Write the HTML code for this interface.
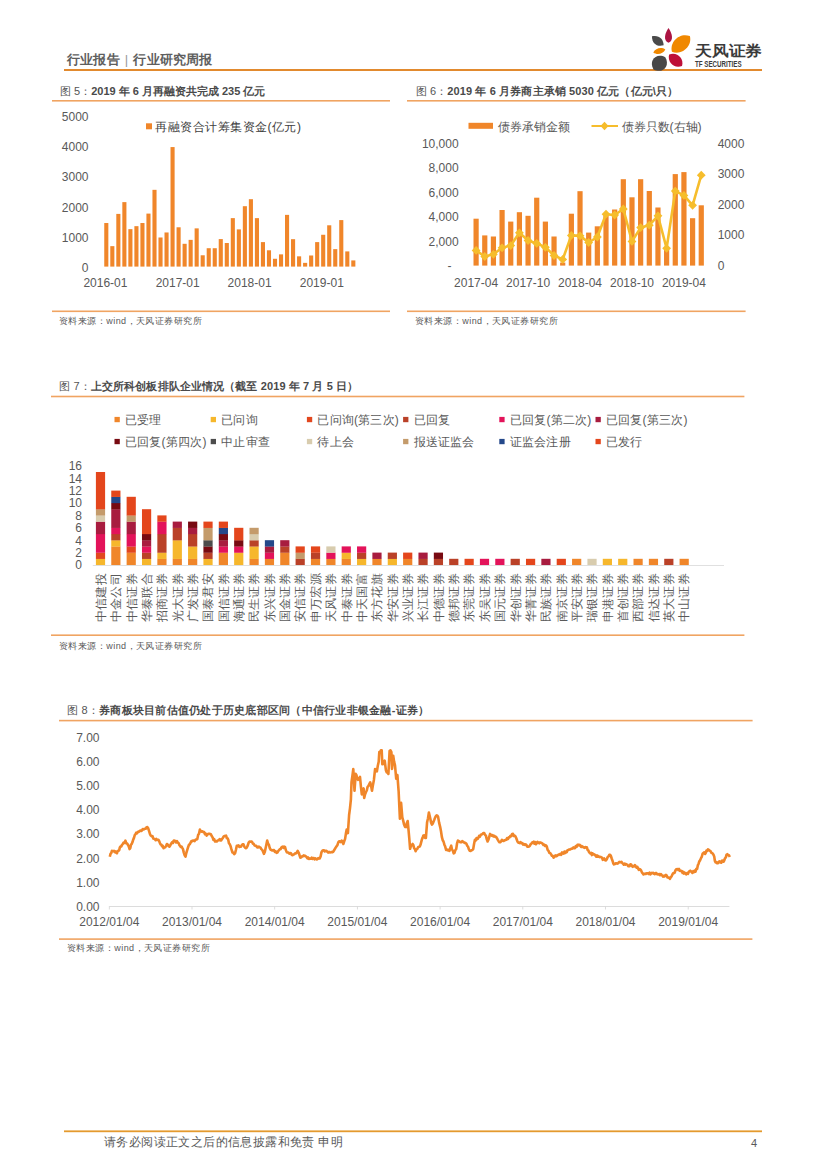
<!DOCTYPE html>
<html><head><meta charset="utf-8"><style>
html,body{margin:0;padding:0;background:#fff;}
body{width:827px;height:1170px;position:relative;overflow:hidden;font-family:"Liberation Sans",sans-serif;color:#595959;}
.a{position:absolute;white-space:nowrap;line-height:1;}
svg{position:absolute;left:0;top:0;}
.t{font-weight:bold;color:#4a4a4a;font-size:11px;}
.n{font-weight:normal;color:#555;}
.src{font-size:9px;letter-spacing:0.45px;color:#595959;}
</style></head><body>

<div class="a" style="left:67px;top:52.5px;font-size:13px;font-weight:bold;color:#5e5e5e;letter-spacing:0.2px">行业报告<span style="font-weight:normal;color:#999;margin:0 5px 0 5px">|</span>行业研究周报</div>
<svg width="827" height="1170" viewBox="0 0 827 1170">
<rect x="64" y="69" width="698" height="2" fill="#E28A2E"/>
<g>
<path d="M-7.40 0 C-2.22 -3.60 5.18 -5.60 7.40 0 C5.18 5.60 -2.22 3.60 -7.40 0Z" fill="#AC1442" transform="translate(668.50 35.30) rotate(90.0)"/>
<path d="M-7.40 0 C-2.96 -5.32 2.96 -5.32 7.40 0 C2.96 5.70 -2.96 5.70 -7.40 0Z" fill="#4a4a4a" transform="translate(657.80 40.80) rotate(38.0)"/>
<path d="M-11.90 0 C-7.14 -9.50 7.14 -9.50 11.90 0 C7.14 9.50 -7.14 9.50 -11.90 0Z" fill="#F08800" transform="translate(680.90 43.90) rotate(-41.0)"/>
<path d="M-6.20 0 C-3.10 -3.74 3.10 -3.74 6.20 0 C3.10 3.74 -3.10 3.74 -6.20 0Z" fill="#F08800" transform="translate(659.30 50.90) rotate(-14.0)"/>
<path d="M-8.60 0 C-5.16 -7.34 5.16 -7.34 8.60 0 C5.16 7.34 -5.16 7.34 -8.60 0Z" fill="#BE1038" transform="translate(675.60 60.30) rotate(41.6)"/>
<path d="M-8.50 0 C-5.78 -9.88 5.78 -9.88 8.50 0 C5.78 9.88 -5.78 9.88 -8.50 0Z" fill="#484848" transform="translate(659.40 63.30) rotate(-46.0)"/>
</g>
<text x="695" y="55.6" font-size="14.5" fill="#3a3a3a" font-weight="600" textLength="67" lengthAdjust="spacingAndGlyphs">天风证券</text>
<text x="695" y="66.6" font-size="8.2" fill="#3c3c3c" font-weight="bold" textLength="46.6" lengthAdjust="spacingAndGlyphs">TF SECURITIES</text>
<rect x="52" y="100.0" width="338" height="1.6" fill="#F0A462"/>
<rect x="407" y="100.0" width="338.6" height="1.6" fill="#F0A462"/>
<rect x="52" y="310.5" width="338" height="1.6" fill="#F0A462"/>
<rect x="407" y="310.5" width="338.6" height="1.6" fill="#F0A462"/>
<rect x="51" y="395.7" width="693.4" height="1.6" fill="#F0A462"/>
<rect x="51" y="634.4000000000001" width="693.4" height="1.6" fill="#F0A462"/>
<rect x="59" y="719.8000000000001" width="693.6" height="1.6" fill="#F0A462"/>
<rect x="59" y="938.3000000000001" width="693.4" height="1.6" fill="#F0A462"/>
<rect x="64" y="1130.3999999999999" width="698" height="1.8" fill="#E49A2E"/>
<rect x="104.25" y="223.02" width="4.1" height="43.58" fill="#F0862A"/>
<rect x="110.28" y="246.15" width="4.1" height="20.45" fill="#F0862A"/>
<rect x="116.30" y="213.90" width="4.1" height="52.70" fill="#F0862A"/>
<rect x="122.33" y="202.12" width="4.1" height="64.48" fill="#F0862A"/>
<rect x="128.35" y="229.15" width="4.1" height="37.45" fill="#F0862A"/>
<rect x="134.38" y="226.16" width="4.1" height="40.44" fill="#F0862A"/>
<rect x="140.40" y="223.02" width="4.1" height="43.58" fill="#F0862A"/>
<rect x="146.42" y="213.60" width="4.1" height="53.00" fill="#F0862A"/>
<rect x="152.45" y="189.83" width="4.1" height="76.77" fill="#F0862A"/>
<rect x="158.47" y="237.49" width="4.1" height="29.11" fill="#F0862A"/>
<rect x="164.50" y="232.47" width="4.1" height="34.13" fill="#F0862A"/>
<rect x="170.52" y="147.07" width="4.1" height="119.53" fill="#F0862A"/>
<rect x="176.55" y="227.28" width="4.1" height="39.32" fill="#F0862A"/>
<rect x="182.57" y="243.80" width="4.1" height="22.80" fill="#F0862A"/>
<rect x="188.60" y="239.87" width="4.1" height="26.73" fill="#F0862A"/>
<rect x="194.62" y="228.37" width="4.1" height="38.23" fill="#F0862A"/>
<rect x="200.65" y="255.28" width="4.1" height="11.32" fill="#F0862A"/>
<rect x="206.68" y="248.21" width="4.1" height="18.39" fill="#F0862A"/>
<rect x="212.70" y="248.21" width="4.1" height="18.39" fill="#F0862A"/>
<rect x="218.72" y="239.09" width="4.1" height="27.51" fill="#F0862A"/>
<rect x="224.75" y="243.01" width="4.1" height="23.59" fill="#F0862A"/>
<rect x="230.77" y="218.13" width="4.1" height="48.47" fill="#F0862A"/>
<rect x="236.80" y="229.39" width="4.1" height="37.21" fill="#F0862A"/>
<rect x="242.82" y="206.20" width="4.1" height="60.40" fill="#F0862A"/>
<rect x="248.85" y="199.19" width="4.1" height="67.41" fill="#F0862A"/>
<rect x="254.88" y="218.13" width="4.1" height="48.47" fill="#F0862A"/>
<rect x="260.90" y="242.11" width="4.1" height="24.49" fill="#F0862A"/>
<rect x="266.93" y="250.29" width="4.1" height="16.31" fill="#F0862A"/>
<rect x="272.95" y="258.78" width="4.1" height="7.82" fill="#F0862A"/>
<rect x="278.98" y="254.37" width="4.1" height="12.23" fill="#F0862A"/>
<rect x="285.00" y="214.87" width="4.1" height="51.73" fill="#F0862A"/>
<rect x="291.02" y="239.18" width="4.1" height="27.42" fill="#F0862A"/>
<rect x="297.05" y="256.33" width="4.1" height="10.27" fill="#F0862A"/>
<rect x="303.07" y="262.86" width="4.1" height="3.74" fill="#F0862A"/>
<rect x="309.10" y="255.49" width="4.1" height="11.11" fill="#F0862A"/>
<rect x="315.12" y="242.11" width="4.1" height="24.49" fill="#F0862A"/>
<rect x="321.15" y="234.77" width="4.1" height="31.83" fill="#F0862A"/>
<rect x="327.18" y="225.29" width="4.1" height="41.31" fill="#F0862A"/>
<rect x="333.20" y="249.14" width="4.1" height="17.46" fill="#F0862A"/>
<rect x="339.23" y="220.09" width="4.1" height="46.51" fill="#F0862A"/>
<rect x="345.25" y="251.41" width="4.1" height="15.19" fill="#F0862A"/>
<rect x="351.27" y="260.41" width="4.1" height="6.19" fill="#F0862A"/>
<text x="88.5" y="271.9" font-size="12" fill="#595959" text-anchor="end">0</text>
<text x="88.5" y="241.7" font-size="12" fill="#595959" text-anchor="end">1000</text>
<text x="88.5" y="211.5" font-size="12" fill="#595959" text-anchor="end">2000</text>
<text x="88.5" y="181.3" font-size="12" fill="#595959" text-anchor="end">3000</text>
<text x="88.5" y="151.1" font-size="12" fill="#595959" text-anchor="end">4000</text>
<text x="88.5" y="120.9" font-size="12" fill="#595959" text-anchor="end">5000</text>
<text x="105.4" y="286.6" font-size="12" fill="#595959" text-anchor="middle">2016-01</text>
<text x="177.7" y="286.6" font-size="12" fill="#595959" text-anchor="middle">2017-01</text>
<text x="249.6" y="286.6" font-size="12" fill="#595959" text-anchor="middle">2018-01</text>
<text x="321.8" y="286.6" font-size="12" fill="#595959" text-anchor="middle">2019-01</text>
<rect x="146" y="123.3" width="6" height="6" fill="#F0862A"/>
<text x="155" y="130.6" font-size="12" letter-spacing="0.5" fill="#404040">再融资合计筹集资金(亿元)</text>
<rect x="473.50" y="218.70" width="5.2" height="46.90" fill="#F0862A"/>
<rect x="482.16" y="235.41" width="5.2" height="30.19" fill="#F0862A"/>
<rect x="490.82" y="236.50" width="5.2" height="29.10" fill="#F0862A"/>
<rect x="499.48" y="210.00" width="5.2" height="55.60" fill="#F0862A"/>
<rect x="508.14" y="221.59" width="5.2" height="44.01" fill="#F0862A"/>
<rect x="516.80" y="212.20" width="5.2" height="53.40" fill="#F0862A"/>
<rect x="525.46" y="215.80" width="5.2" height="49.80" fill="#F0862A"/>
<rect x="534.12" y="197.69" width="5.2" height="67.91" fill="#F0862A"/>
<rect x="542.78" y="221.59" width="5.2" height="44.01" fill="#F0862A"/>
<rect x="551.44" y="236.50" width="5.2" height="29.10" fill="#F0862A"/>
<rect x="560.10" y="262.55" width="5.2" height="3.05" fill="#F0862A"/>
<rect x="568.76" y="213.70" width="5.2" height="51.90" fill="#F0862A"/>
<rect x="577.42" y="191.18" width="5.2" height="74.42" fill="#F0862A"/>
<rect x="586.08" y="232.60" width="5.2" height="33.00" fill="#F0862A"/>
<rect x="594.74" y="226.30" width="5.2" height="39.30" fill="#F0862A"/>
<rect x="603.40" y="215.58" width="5.2" height="50.02" fill="#F0862A"/>
<rect x="612.06" y="209.50" width="5.2" height="56.10" fill="#F0862A"/>
<rect x="620.72" y="179.20" width="5.2" height="86.40" fill="#F0862A"/>
<rect x="629.38" y="197.30" width="5.2" height="68.30" fill="#F0862A"/>
<rect x="638.04" y="179.20" width="5.2" height="86.40" fill="#F0862A"/>
<rect x="646.70" y="191.00" width="5.2" height="74.60" fill="#F0862A"/>
<rect x="655.36" y="207.50" width="5.2" height="58.10" fill="#F0862A"/>
<rect x="664.02" y="249.74" width="5.2" height="15.86" fill="#F0862A"/>
<rect x="672.68" y="174.10" width="5.2" height="91.50" fill="#F0862A"/>
<rect x="681.34" y="172.10" width="5.2" height="93.50" fill="#F0862A"/>
<rect x="690.00" y="218.20" width="5.2" height="47.40" fill="#F0862A"/>
<rect x="698.66" y="205.30" width="5.2" height="60.30" fill="#F0862A"/>
<polyline points="476.10,250.41 484.76,256.51 493.42,254.32 502.08,247.79 510.74,245.59 519.40,232.81 528.06,240.50 536.72,243.40 545.38,247.30 554.04,255.50 562.70,259.41 571.36,235.41 580.02,235.86 588.68,242.51 597.34,236.99 606.00,214.21 614.66,215.00 623.32,208.99 631.98,241.41 640.64,227.60 649.30,225.19 657.96,215.79 666.62,248.31 675.28,191.09 683.94,195.39 692.60,205.30 701.26,175.20" fill="none" stroke="#F6BD2C" stroke-width="2.6" stroke-linejoin="round"/>
<path d="M476.10 246.01L480.50 250.41L476.10 254.81L471.70 250.41Z" fill="#F6BD2C"/>
<path d="M484.76 252.11L489.16 256.51L484.76 260.91L480.36 256.51Z" fill="#F6BD2C"/>
<path d="M493.42 249.92L497.82 254.32L493.42 258.72L489.02 254.32Z" fill="#F6BD2C"/>
<path d="M502.08 243.39L506.48 247.79L502.08 252.19L497.68 247.79Z" fill="#F6BD2C"/>
<path d="M510.74 241.19L515.14 245.59L510.74 249.99L506.34 245.59Z" fill="#F6BD2C"/>
<path d="M519.40 228.41L523.80 232.81L519.40 237.21L515.00 232.81Z" fill="#F6BD2C"/>
<path d="M528.06 236.10L532.46 240.50L528.06 244.90L523.66 240.50Z" fill="#F6BD2C"/>
<path d="M536.72 239.00L541.12 243.40L536.72 247.80L532.32 243.40Z" fill="#F6BD2C"/>
<path d="M545.38 242.90L549.78 247.30L545.38 251.70L540.98 247.30Z" fill="#F6BD2C"/>
<path d="M554.04 251.10L558.44 255.50L554.04 259.90L549.64 255.50Z" fill="#F6BD2C"/>
<path d="M562.70 255.01L567.10 259.41L562.70 263.81L558.30 259.41Z" fill="#F6BD2C"/>
<path d="M571.36 231.01L575.76 235.41L571.36 239.81L566.96 235.41Z" fill="#F6BD2C"/>
<path d="M580.02 231.46L584.42 235.86L580.02 240.26L575.62 235.86Z" fill="#F6BD2C"/>
<path d="M588.68 238.11L593.08 242.51L588.68 246.91L584.28 242.51Z" fill="#F6BD2C"/>
<path d="M597.34 232.59L601.74 236.99L597.34 241.39L592.94 236.99Z" fill="#F6BD2C"/>
<path d="M606.00 209.81L610.40 214.21L606.00 218.61L601.60 214.21Z" fill="#F6BD2C"/>
<path d="M614.66 210.60L619.06 215.00L614.66 219.40L610.26 215.00Z" fill="#F6BD2C"/>
<path d="M623.32 204.59L627.72 208.99L623.32 213.39L618.92 208.99Z" fill="#F6BD2C"/>
<path d="M631.98 237.01L636.38 241.41L631.98 245.81L627.58 241.41Z" fill="#F6BD2C"/>
<path d="M640.64 223.20L645.04 227.60L640.64 232.00L636.24 227.60Z" fill="#F6BD2C"/>
<path d="M649.30 220.79L653.70 225.19L649.30 229.59L644.90 225.19Z" fill="#F6BD2C"/>
<path d="M657.96 211.39L662.36 215.79L657.96 220.19L653.56 215.79Z" fill="#F6BD2C"/>
<path d="M666.62 243.91L671.02 248.31L666.62 252.71L662.22 248.31Z" fill="#F6BD2C"/>
<path d="M675.28 186.69L679.68 191.09L675.28 195.49L670.88 191.09Z" fill="#F6BD2C"/>
<path d="M683.94 190.99L688.34 195.39L683.94 199.79L679.54 195.39Z" fill="#F6BD2C"/>
<path d="M692.60 200.90L697.00 205.30L692.60 209.70L688.20 205.30Z" fill="#F6BD2C"/>
<path d="M701.26 170.80L705.66 175.20L701.26 179.60L696.86 175.20Z" fill="#F6BD2C"/>
<text x="451.5" y="269.9" font-size="12" fill="#595959" text-anchor="end">-</text>
<text x="458.6" y="245.5" font-size="12" fill="#595959" text-anchor="end">2,000</text>
<text x="458.6" y="221.1" font-size="12" fill="#595959" text-anchor="end">4,000</text>
<text x="458.6" y="196.7" font-size="12" fill="#595959" text-anchor="end">6,000</text>
<text x="458.6" y="172.3" font-size="12" fill="#595959" text-anchor="end">8,000</text>
<text x="458.6" y="147.9" font-size="12" fill="#595959" text-anchor="end">10,000</text>
<text x="717.7" y="269.9" font-size="12" fill="#595959">0</text>
<text x="717.7" y="239.4" font-size="12" fill="#595959">1000</text>
<text x="717.7" y="208.9" font-size="12" fill="#595959">2000</text>
<text x="717.7" y="178.4" font-size="12" fill="#595959">3000</text>
<text x="717.7" y="147.9" font-size="12" fill="#595959">4000</text>
<text x="476.1" y="287" font-size="12" fill="#595959" text-anchor="middle">2017-04</text>
<text x="528.1" y="287" font-size="12" fill="#595959" text-anchor="middle">2017-10</text>
<text x="580.0" y="287" font-size="12" fill="#595959" text-anchor="middle">2018-04</text>
<text x="632.0" y="287" font-size="12" fill="#595959" text-anchor="middle">2018-10</text>
<text x="683.9" y="287" font-size="12" fill="#595959" text-anchor="middle">2019-04</text>
<rect x="468.5" y="122.8" width="24.5" height="6" fill="#F0862A"/>
<text x="498" y="130.8" font-size="12.3" fill="#595959">债券承销金额</text>
<rect x="591.5" y="125" width="26.5" height="2" fill="#F6BD2C"/>
<path d="M604.5 121.8L608.5 126L604.5 130.2L600.5 126Z" fill="#F6BD2C"/>
<text x="621.5" y="130.8" font-size="12.3" fill="#595959">债券只数(右轴)</text>
<rect x="95.90" y="558.80" width="9.2" height="6.35" fill="#F6B72C"/>
<rect x="95.90" y="552.60" width="9.2" height="6.35" fill="#E2471E"/>
<rect x="95.90" y="534.00" width="9.2" height="18.75" fill="#E3135A"/>
<rect x="95.90" y="521.60" width="9.2" height="12.55" fill="#A81C3F"/>
<rect x="95.90" y="515.40" width="9.2" height="6.35" fill="#D8CCAE"/>
<rect x="95.90" y="509.20" width="9.2" height="6.35" fill="#C49B6B"/>
<rect x="95.90" y="472.00" width="9.2" height="37.35" fill="#E4461C"/>
<rect x="111.26" y="546.40" width="9.2" height="18.75" fill="#F0862A"/>
<rect x="111.26" y="540.20" width="9.2" height="6.35" fill="#F6B72C"/>
<rect x="111.26" y="534.00" width="9.2" height="6.35" fill="#BA4128"/>
<rect x="111.26" y="527.80" width="9.2" height="6.35" fill="#E3135A"/>
<rect x="111.26" y="509.20" width="9.2" height="18.75" fill="#A81C3F"/>
<rect x="111.26" y="503.00" width="9.2" height="6.35" fill="#780A12"/>
<rect x="111.26" y="496.80" width="9.2" height="6.35" fill="#24488A"/>
<rect x="111.26" y="490.60" width="9.2" height="6.35" fill="#E4461C"/>
<rect x="126.62" y="552.60" width="9.2" height="12.55" fill="#F0862A"/>
<rect x="126.62" y="546.40" width="9.2" height="6.35" fill="#E2471E"/>
<rect x="126.62" y="534.00" width="9.2" height="12.55" fill="#E3135A"/>
<rect x="126.62" y="521.60" width="9.2" height="12.55" fill="#A81C3F"/>
<rect x="126.62" y="515.40" width="9.2" height="6.35" fill="#C49B6B"/>
<rect x="126.62" y="496.80" width="9.2" height="18.75" fill="#E4461C"/>
<rect x="141.98" y="558.80" width="9.2" height="6.35" fill="#F6B72C"/>
<rect x="141.98" y="552.60" width="9.2" height="6.35" fill="#BA4128"/>
<rect x="141.98" y="546.40" width="9.2" height="6.35" fill="#E3135A"/>
<rect x="141.98" y="540.20" width="9.2" height="6.35" fill="#A81C3F"/>
<rect x="141.98" y="534.00" width="9.2" height="6.35" fill="#780A12"/>
<rect x="141.98" y="509.20" width="9.2" height="24.95" fill="#E4461C"/>
<rect x="157.34" y="558.80" width="9.2" height="6.35" fill="#F0862A"/>
<rect x="157.34" y="552.60" width="9.2" height="6.35" fill="#F6B72C"/>
<rect x="157.34" y="534.00" width="9.2" height="18.75" fill="#BA4128"/>
<rect x="157.34" y="521.60" width="9.2" height="12.55" fill="#E3135A"/>
<rect x="157.34" y="515.40" width="9.2" height="6.35" fill="#E4461C"/>
<rect x="172.70" y="558.80" width="9.2" height="6.35" fill="#F0862A"/>
<rect x="172.70" y="540.20" width="9.2" height="18.75" fill="#F6B72C"/>
<rect x="172.70" y="527.80" width="9.2" height="12.55" fill="#BA4128"/>
<rect x="172.70" y="521.60" width="9.2" height="6.35" fill="#A81C3F"/>
<rect x="188.06" y="558.80" width="9.2" height="6.35" fill="#F0862A"/>
<rect x="188.06" y="546.40" width="9.2" height="12.55" fill="#F6B72C"/>
<rect x="188.06" y="534.00" width="9.2" height="12.55" fill="#BA4128"/>
<rect x="188.06" y="527.80" width="9.2" height="6.35" fill="#A81C3F"/>
<rect x="188.06" y="521.60" width="9.2" height="6.35" fill="#780A12"/>
<rect x="203.42" y="558.80" width="9.2" height="6.35" fill="#F6B72C"/>
<rect x="203.42" y="552.60" width="9.2" height="6.35" fill="#BA4128"/>
<rect x="203.42" y="546.40" width="9.2" height="6.35" fill="#780A12"/>
<rect x="203.42" y="540.20" width="9.2" height="6.35" fill="#4C4C4C"/>
<rect x="203.42" y="527.80" width="9.2" height="12.55" fill="#C49B6B"/>
<rect x="203.42" y="521.60" width="9.2" height="6.35" fill="#E4461C"/>
<rect x="218.78" y="552.60" width="9.2" height="12.55" fill="#F0862A"/>
<rect x="218.78" y="546.40" width="9.2" height="6.35" fill="#E3135A"/>
<rect x="218.78" y="540.20" width="9.2" height="6.35" fill="#A81C3F"/>
<rect x="218.78" y="534.00" width="9.2" height="6.35" fill="#780A12"/>
<rect x="218.78" y="527.80" width="9.2" height="6.35" fill="#24488A"/>
<rect x="218.78" y="521.60" width="9.2" height="6.35" fill="#E4461C"/>
<rect x="234.14" y="552.60" width="9.2" height="12.55" fill="#F6B72C"/>
<rect x="234.14" y="546.40" width="9.2" height="6.35" fill="#E3135A"/>
<rect x="234.14" y="540.20" width="9.2" height="6.35" fill="#780A12"/>
<rect x="234.14" y="527.80" width="9.2" height="12.55" fill="#E4461C"/>
<rect x="249.50" y="558.80" width="9.2" height="6.35" fill="#F0862A"/>
<rect x="249.50" y="546.40" width="9.2" height="12.55" fill="#F6B72C"/>
<rect x="249.50" y="540.20" width="9.2" height="6.35" fill="#BA4128"/>
<rect x="249.50" y="534.00" width="9.2" height="6.35" fill="#D8CCAE"/>
<rect x="249.50" y="527.80" width="9.2" height="6.35" fill="#C49B6B"/>
<rect x="264.86" y="558.80" width="9.2" height="6.35" fill="#F0862A"/>
<rect x="264.86" y="552.60" width="9.2" height="6.35" fill="#E3135A"/>
<rect x="264.86" y="546.40" width="9.2" height="6.35" fill="#A81C3F"/>
<rect x="264.86" y="540.20" width="9.2" height="6.35" fill="#24488A"/>
<rect x="280.22" y="552.60" width="9.2" height="12.55" fill="#F0862A"/>
<rect x="280.22" y="546.40" width="9.2" height="6.35" fill="#BA4128"/>
<rect x="280.22" y="540.20" width="9.2" height="6.35" fill="#A81C3F"/>
<rect x="295.58" y="558.80" width="9.2" height="6.35" fill="#BA4128"/>
<rect x="295.58" y="552.60" width="9.2" height="6.35" fill="#C49B6B"/>
<rect x="295.58" y="546.40" width="9.2" height="6.35" fill="#E4461C"/>
<rect x="310.94" y="558.80" width="9.2" height="6.35" fill="#F0862A"/>
<rect x="310.94" y="552.60" width="9.2" height="6.35" fill="#BA4128"/>
<rect x="310.94" y="546.40" width="9.2" height="6.35" fill="#E4461C"/>
<rect x="326.30" y="558.80" width="9.2" height="6.35" fill="#F0862A"/>
<rect x="326.30" y="552.60" width="9.2" height="6.35" fill="#E3135A"/>
<rect x="326.30" y="546.40" width="9.2" height="6.35" fill="#D8CCAE"/>
<rect x="341.66" y="558.80" width="9.2" height="6.35" fill="#F0862A"/>
<rect x="341.66" y="552.60" width="9.2" height="6.35" fill="#F6B72C"/>
<rect x="341.66" y="546.40" width="9.2" height="6.35" fill="#E3135A"/>
<rect x="357.02" y="558.80" width="9.2" height="6.35" fill="#F6B72C"/>
<rect x="357.02" y="552.60" width="9.2" height="6.35" fill="#BA4128"/>
<rect x="357.02" y="546.40" width="9.2" height="6.35" fill="#E3135A"/>
<rect x="372.38" y="558.80" width="9.2" height="6.35" fill="#F0862A"/>
<rect x="372.38" y="552.60" width="9.2" height="6.35" fill="#A81C3F"/>
<rect x="387.74" y="558.80" width="9.2" height="6.35" fill="#F6B72C"/>
<rect x="387.74" y="552.60" width="9.2" height="6.35" fill="#BA4128"/>
<rect x="403.10" y="558.80" width="9.2" height="6.35" fill="#F0862A"/>
<rect x="403.10" y="552.60" width="9.2" height="6.35" fill="#E4461C"/>
<rect x="418.46" y="558.80" width="9.2" height="6.35" fill="#BA4128"/>
<rect x="418.46" y="552.60" width="9.2" height="6.35" fill="#A81C3F"/>
<rect x="433.82" y="558.80" width="9.2" height="6.35" fill="#BA4128"/>
<rect x="433.82" y="552.60" width="9.2" height="6.35" fill="#780A12"/>
<rect x="449.18" y="558.80" width="9.2" height="6.35" fill="#BA4128"/>
<rect x="464.54" y="558.80" width="9.2" height="6.35" fill="#E4461C"/>
<rect x="479.90" y="558.80" width="9.2" height="6.35" fill="#E3135A"/>
<rect x="495.26" y="558.80" width="9.2" height="6.35" fill="#E3135A"/>
<rect x="510.62" y="558.80" width="9.2" height="6.35" fill="#BA4128"/>
<rect x="525.98" y="558.80" width="9.2" height="6.35" fill="#E4461C"/>
<rect x="541.34" y="558.80" width="9.2" height="6.35" fill="#A81C3F"/>
<rect x="556.70" y="558.80" width="9.2" height="6.35" fill="#E4461C"/>
<rect x="572.06" y="558.80" width="9.2" height="6.35" fill="#F0862A"/>
<rect x="587.42" y="558.80" width="9.2" height="6.35" fill="#D8CCAE"/>
<rect x="602.78" y="558.80" width="9.2" height="6.35" fill="#F6B72C"/>
<rect x="618.14" y="558.80" width="9.2" height="6.35" fill="#F6B72C"/>
<rect x="633.50" y="558.80" width="9.2" height="6.35" fill="#F0862A"/>
<rect x="648.86" y="558.80" width="9.2" height="6.35" fill="#F0862A"/>
<rect x="664.22" y="558.80" width="9.2" height="6.35" fill="#BA4128"/>
<rect x="679.58" y="558.80" width="9.2" height="6.35" fill="#F0862A"/>
<rect x="92.8" y="565.0" width="631.2" height="0.8" fill="#d9d9d9"/>
<text x="82" y="569.3" font-size="12" fill="#595959" text-anchor="end">0</text>
<text x="82" y="556.9" font-size="12" fill="#595959" text-anchor="end">2</text>
<text x="82" y="544.5" font-size="12" fill="#595959" text-anchor="end">4</text>
<text x="82" y="532.1" font-size="12" fill="#595959" text-anchor="end">6</text>
<text x="82" y="519.7" font-size="12" fill="#595959" text-anchor="end">8</text>
<text x="82" y="507.3" font-size="12" fill="#595959" text-anchor="end">10</text>
<text x="82" y="494.9" font-size="12" fill="#595959" text-anchor="end">12</text>
<text x="82" y="482.5" font-size="12" fill="#595959" text-anchor="end">14</text>
<text x="82" y="470.1" font-size="12" fill="#595959" text-anchor="end">16</text>
<text transform="translate(104.80,573.1) rotate(-90)" font-size="12" letter-spacing="0.3" fill="#595959" text-anchor="end">中信建投</text>
<text transform="translate(120.16,573.1) rotate(-90)" font-size="12" letter-spacing="0.3" fill="#595959" text-anchor="end">中金公司</text>
<text transform="translate(135.52,573.1) rotate(-90)" font-size="12" letter-spacing="0.3" fill="#595959" text-anchor="end">中信证券</text>
<text transform="translate(150.88,573.1) rotate(-90)" font-size="12" letter-spacing="0.3" fill="#595959" text-anchor="end">华泰联合</text>
<text transform="translate(166.24,573.1) rotate(-90)" font-size="12" letter-spacing="0.3" fill="#595959" text-anchor="end">招商证券</text>
<text transform="translate(181.60,573.1) rotate(-90)" font-size="12" letter-spacing="0.3" fill="#595959" text-anchor="end">光大证券</text>
<text transform="translate(196.96,573.1) rotate(-90)" font-size="12" letter-spacing="0.3" fill="#595959" text-anchor="end">广发证券</text>
<text transform="translate(212.32,573.1) rotate(-90)" font-size="12" letter-spacing="0.3" fill="#595959" text-anchor="end">国泰君安</text>
<text transform="translate(227.68,573.1) rotate(-90)" font-size="12" letter-spacing="0.3" fill="#595959" text-anchor="end">国信证券</text>
<text transform="translate(243.04,573.1) rotate(-90)" font-size="12" letter-spacing="0.3" fill="#595959" text-anchor="end">海通证券</text>
<text transform="translate(258.40,573.1) rotate(-90)" font-size="12" letter-spacing="0.3" fill="#595959" text-anchor="end">民生证券</text>
<text transform="translate(273.76,573.1) rotate(-90)" font-size="12" letter-spacing="0.3" fill="#595959" text-anchor="end">东兴证券</text>
<text transform="translate(289.12,573.1) rotate(-90)" font-size="12" letter-spacing="0.3" fill="#595959" text-anchor="end">国金证券</text>
<text transform="translate(304.48,573.1) rotate(-90)" font-size="12" letter-spacing="0.3" fill="#595959" text-anchor="end">安信证券</text>
<text transform="translate(319.84,573.1) rotate(-90)" font-size="12" letter-spacing="0.3" fill="#595959" text-anchor="end">申万宏源</text>
<text transform="translate(335.20,573.1) rotate(-90)" font-size="12" letter-spacing="0.3" fill="#595959" text-anchor="end">天风证券</text>
<text transform="translate(350.56,573.1) rotate(-90)" font-size="12" letter-spacing="0.3" fill="#595959" text-anchor="end">中泰证券</text>
<text transform="translate(365.92,573.1) rotate(-90)" font-size="12" letter-spacing="0.3" fill="#595959" text-anchor="end">中天国富</text>
<text transform="translate(381.28,573.1) rotate(-90)" font-size="12" letter-spacing="0.3" fill="#595959" text-anchor="end">东方花旗</text>
<text transform="translate(396.64,573.1) rotate(-90)" font-size="12" letter-spacing="0.3" fill="#595959" text-anchor="end">华安证券</text>
<text transform="translate(412.00,573.1) rotate(-90)" font-size="12" letter-spacing="0.3" fill="#595959" text-anchor="end">兴业证券</text>
<text transform="translate(427.36,573.1) rotate(-90)" font-size="12" letter-spacing="0.3" fill="#595959" text-anchor="end">长江证券</text>
<text transform="translate(442.72,573.1) rotate(-90)" font-size="12" letter-spacing="0.3" fill="#595959" text-anchor="end">中德证券</text>
<text transform="translate(458.08,573.1) rotate(-90)" font-size="12" letter-spacing="0.3" fill="#595959" text-anchor="end">德邦证券</text>
<text transform="translate(473.44,573.1) rotate(-90)" font-size="12" letter-spacing="0.3" fill="#595959" text-anchor="end">东莞证券</text>
<text transform="translate(488.80,573.1) rotate(-90)" font-size="12" letter-spacing="0.3" fill="#595959" text-anchor="end">东吴证券</text>
<text transform="translate(504.16,573.1) rotate(-90)" font-size="12" letter-spacing="0.3" fill="#595959" text-anchor="end">国元证券</text>
<text transform="translate(519.52,573.1) rotate(-90)" font-size="12" letter-spacing="0.3" fill="#595959" text-anchor="end">华创证券</text>
<text transform="translate(534.88,573.1) rotate(-90)" font-size="12" letter-spacing="0.3" fill="#595959" text-anchor="end">华菁证券</text>
<text transform="translate(550.24,573.1) rotate(-90)" font-size="12" letter-spacing="0.3" fill="#595959" text-anchor="end">民族证券</text>
<text transform="translate(565.60,573.1) rotate(-90)" font-size="12" letter-spacing="0.3" fill="#595959" text-anchor="end">南京证券</text>
<text transform="translate(580.96,573.1) rotate(-90)" font-size="12" letter-spacing="0.3" fill="#595959" text-anchor="end">平安证券</text>
<text transform="translate(596.32,573.1) rotate(-90)" font-size="12" letter-spacing="0.3" fill="#595959" text-anchor="end">瑞银证券</text>
<text transform="translate(611.68,573.1) rotate(-90)" font-size="12" letter-spacing="0.3" fill="#595959" text-anchor="end">申港证券</text>
<text transform="translate(627.04,573.1) rotate(-90)" font-size="12" letter-spacing="0.3" fill="#595959" text-anchor="end">首创证券</text>
<text transform="translate(642.40,573.1) rotate(-90)" font-size="12" letter-spacing="0.3" fill="#595959" text-anchor="end">西部证券</text>
<text transform="translate(657.76,573.1) rotate(-90)" font-size="12" letter-spacing="0.3" fill="#595959" text-anchor="end">信达证券</text>
<text transform="translate(673.12,573.1) rotate(-90)" font-size="12" letter-spacing="0.3" fill="#595959" text-anchor="end">英大证券</text>
<text transform="translate(688.48,573.1) rotate(-90)" font-size="12" letter-spacing="0.3" fill="#595959" text-anchor="end">中山证券</text>
<rect x="114.5" y="416.9" width="5.3" height="5.3" fill="#F0862A"/>
<text x="125.0" y="424.0" font-size="12" letter-spacing="0.2" fill="#595959">已受理</text>
<rect x="210.7" y="416.9" width="5.3" height="5.3" fill="#F6B72C"/>
<text x="221.2" y="424.0" font-size="12" letter-spacing="0.2" fill="#595959">已问询</text>
<rect x="306.9" y="416.9" width="5.3" height="5.3" fill="#E2471E"/>
<text x="317.4" y="424.0" font-size="12" letter-spacing="0.2" fill="#595959">已问询(第三次)</text>
<rect x="403.1" y="416.9" width="5.3" height="5.3" fill="#BA4128"/>
<text x="413.6" y="424.0" font-size="12" letter-spacing="0.2" fill="#595959">已回复</text>
<rect x="499.3" y="416.9" width="5.3" height="5.3" fill="#E3135A"/>
<text x="509.8" y="424.0" font-size="12" letter-spacing="0.2" fill="#595959">已回复(第二次)</text>
<rect x="595.5" y="416.9" width="5.3" height="5.3" fill="#A81C3F"/>
<text x="606.0" y="424.0" font-size="12" letter-spacing="0.2" fill="#595959">已回复(第三次)</text>
<rect x="114.5" y="438.9" width="5.3" height="5.3" fill="#780A12"/>
<text x="125.0" y="446.0" font-size="12" letter-spacing="0.2" fill="#595959">已回复(第四次)</text>
<rect x="210.7" y="438.9" width="5.3" height="5.3" fill="#4C4C4C"/>
<text x="221.2" y="446.0" font-size="12" letter-spacing="0.2" fill="#595959">中止审查</text>
<rect x="306.9" y="438.9" width="5.3" height="5.3" fill="#D8CCAE"/>
<text x="317.4" y="446.0" font-size="12" letter-spacing="0.2" fill="#595959">待上会</text>
<rect x="403.1" y="438.9" width="5.3" height="5.3" fill="#C49B6B"/>
<text x="413.6" y="446.0" font-size="12" letter-spacing="0.2" fill="#595959">报送证监会</text>
<rect x="499.3" y="438.9" width="5.3" height="5.3" fill="#24488A"/>
<text x="509.8" y="446.0" font-size="12" letter-spacing="0.2" fill="#595959">证监会注册</text>
<rect x="595.5" y="438.9" width="5.3" height="5.3" fill="#E4461C"/>
<text x="606.0" y="446.0" font-size="12" letter-spacing="0.2" fill="#595959">已发行</text>
<polyline points="109.8,856.7 110.5,853.9 111.2,853.1 111.9,850.8 112.6,851.2 113.3,851.2 114.0,850.8 114.8,852.2 115.5,851.5 116.2,852.8 116.9,853.3 117.6,851.1 118.4,850.7 119.1,850.5 119.8,847.6 120.5,846.6 121.3,846.4 122.0,844.9 122.8,844.0 123.7,842.5 124.6,842.8 125.4,840.6 126.2,843.2 127.1,843.5 127.9,844.8 128.8,846.5 129.6,849.1 130.3,848.0 131.0,844.7 131.8,843.8 132.5,842.1 133.2,839.6 133.9,838.1 134.8,835.0 135.6,833.9 136.3,832.7 137.0,833.4 137.7,832.3 138.5,831.5 139.2,831.7 139.9,830.9 140.6,830.5 141.3,830.9 142.0,830.4 142.8,829.0 143.5,829.5 144.2,829.1 144.9,828.8 145.7,828.8 146.6,827.2 147.4,827.1 148.2,828.3 149.1,831.2 150.0,834.1 150.8,835.6 151.7,836.4 152.5,836.1 153.3,838.5 154.2,838.9 154.9,839.2 155.6,840.1 156.3,838.9 157.0,840.0 157.7,839.9 158.4,839.8 159.1,840.9 159.9,843.0 160.6,844.5 161.3,844.5 162.0,846.2 162.8,845.9 163.5,848.2 164.3,847.5 165.2,847.3 166.1,845.8 166.9,844.0 167.7,844.6 168.6,846.1 169.4,846.6 170.1,845.7 170.9,844.1 171.6,843.1 172.3,842.1 173.0,843.0 173.8,840.6 174.5,840.6 175.3,840.9 176.2,842.5 177.0,841.2 177.9,842.6 178.7,843.2 179.4,845.1 180.1,845.9 180.8,847.0 181.6,846.6 182.3,847.9 183.0,849.1 183.8,852.6 184.7,855.3 185.5,856.7 186.3,853.0 187.2,850.2 188.1,847.2 188.9,844.9 189.7,844.3 190.6,842.6 191.4,841.1 192.3,841.3 193.1,840.6 193.8,840.5 194.5,841.1 195.2,840.2 195.9,839.5 196.6,839.5 197.3,838.9 198.2,834.7 199.0,833.7 199.9,829.6 200.8,831.1 201.6,831.6 202.5,831.3 203.3,832.2 204.2,832.1 205.0,834.2 205.8,833.7 206.7,835.6 207.5,834.5 208.3,833.9 209.2,833.9 210.0,833.9 210.8,834.2 211.7,836.0 212.6,837.4 213.4,839.8 214.2,839.1 215.1,841.5 216.0,841.3 216.8,841.5 217.5,840.5 218.3,840.4 219.0,840.1 219.7,839.1 220.4,840.5 221.2,840.5 221.9,838.9 222.7,838.2 223.6,836.6 224.4,836.0 225.3,835.9 226.1,835.6 226.8,838.1 227.5,838.2 228.2,839.5 229.0,843.4 229.7,844.1 230.4,845.7 231.4,849.2 232.5,852.5 233.4,852.8 234.2,854.2 235.1,853.3 235.9,850.0 236.8,845.7 237.7,845.6 238.5,845.4 239.3,847.0 240.2,846.6 241.0,846.7 241.8,845.1 242.7,844.3 243.5,844.4 244.4,846.8 245.2,847.8 246.1,848.2 246.9,847.3 247.8,845.4 248.7,842.5 249.5,841.5 250.3,841.7 251.2,841.5 252.1,842.0 252.9,843.7 253.7,843.8 254.6,845.5 255.4,845.7 256.2,845.8 257.1,847.2 257.9,847.5 258.8,846.6 259.6,847.1 260.5,847.6 261.3,849.1 262.2,849.9 263.0,851.5 263.9,853.8 264.8,852.0 265.6,848.2 266.4,844.4 267.2,840.6 268.1,843.9 268.9,844.7 269.8,848.2 270.6,849.7 271.5,850.0 272.4,850.5 273.2,850.4 274.0,850.0 274.9,851.9 275.7,851.3 276.6,852.8 277.4,852.5 278.2,851.1 279.1,850.0 279.9,849.1 280.6,849.2 281.3,847.5 282.0,847.0 282.8,846.6 283.5,848.0 284.2,846.6 285.1,847.2 285.9,850.3 286.8,852.2 287.6,852.5 288.4,852.6 289.3,853.6 290.1,853.1 291.0,853.3 291.8,855.0 292.6,855.1 293.5,854.5 294.3,854.2 295.1,853.2 296.0,853.4 296.9,852.4 297.7,850.8 298.6,852.5 299.4,854.8 300.3,857.6 301.1,857.5 302.0,856.3 302.8,856.4 303.7,855.4 304.5,855.9 305.2,855.9 306.0,856.5 306.7,857.2 307.4,858.3 308.1,857.5 308.9,859.0 309.6,858.4 310.3,858.6 311.0,858.7 311.7,857.6 312.5,858.8 313.2,858.3 313.9,858.0 314.6,859.3 315.3,858.4 316.1,859.0 316.8,859.5 317.5,858.9 318.2,858.2 319.0,858.6 319.7,858.4 320.6,856.5 321.4,852.4 322.3,850.8 323.1,850.2 324.0,850.3 324.8,851.5 325.7,850.8 326.5,850.8 327.4,851.8 328.2,852.6 329.0,851.9 329.9,852.5 330.8,852.3 331.6,852.1 332.4,852.3 333.3,851.6 334.1,850.3 335.0,848.7 335.8,847.4 336.6,846.2 337.5,844.9 338.3,842.3 339.1,841.3 340.0,841.6 340.9,842.1 341.7,840.6 342.5,841.4 343.4,844.0 344.2,841.3 345.1,838.9 345.9,833.6 346.7,829.5 347.9,833.1 349.1,815.0 350.0,808.1 350.9,799.3 351.5,782.3 352.4,776.0 353.3,769.0 354.5,790.8 355.7,773.9 356.5,775.2 357.3,779.0 358.1,779.9 359.1,778.4 360.0,776.9 360.9,786.4 361.8,794.4 362.7,791.2 363.6,788.4 364.2,798.0 365.1,794.3 366.0,792.0 366.8,790.5 367.6,786.8 368.4,786.0 369.3,784.0 370.2,782.3 371.1,786.1 372.0,790.8 372.9,785.4 373.9,779.9 375.1,769.0 376.0,770.9 376.9,771.4 377.8,765.7 378.7,761.8 379.3,752.1 380.1,752.2 380.9,750.3 381.7,750.3 382.3,764.2 383.1,764.0 383.9,762.6 384.7,760.6 385.9,770.2 386.7,772.4 387.6,772.8 388.4,773.9 389.6,750.9 390.5,750.4 391.4,752.1 392.0,769.0 393.2,755.7 394.1,761.6 395.0,765.4 396.2,778.7 397.4,775.1 398.6,790.8 399.9,818.6 401.1,802.9 402.3,817.4 403.2,820.6 404.1,824.6 405.0,826.9 405.9,827.1 406.8,823.2 407.7,821.0 408.5,829.6 409.3,838.6 410.1,848.8 410.9,846.1 411.8,844.9 412.6,844.0 413.4,845.3 414.1,848.2 414.9,848.9 415.6,851.2 416.4,849.5 417.3,848.9 418.1,847.2 419.0,846.8 419.8,846.4 420.5,844.8 421.2,842.2 422.0,839.1 422.7,837.6 423.4,835.5 424.2,835.4 425.1,837.9 425.9,837.9 427.1,822.2 428.0,818.2 428.9,812.5 429.6,815.5 430.4,819.0 431.1,822.7 431.9,824.6 432.7,823.7 433.5,821.7 434.3,819.8 435.1,817.6 435.9,816.1 436.6,815.3 437.4,815.7 438.1,816.9 439.1,822.6 440.2,827.1 441.0,831.3 441.9,837.2 442.7,840.2 443.5,841.5 444.4,844.7 445.2,846.6 446.1,849.9 447.0,849.6 447.8,850.3 448.6,849.8 449.5,850.8 450.4,847.7 451.2,845.7 452.0,849.4 452.9,850.9 453.7,853.3 454.5,853.0 455.4,850.0 456.2,849.1 457.0,843.7 457.9,840.6 458.8,841.1 459.6,841.7 460.5,842.3 461.4,842.3 462.2,841.1 463.0,841.7 463.9,842.3 464.7,842.9 465.5,842.9 466.4,843.7 467.2,845.7 468.1,846.8 468.9,849.3 469.8,850.8 470.6,851.0 471.5,850.3 472.4,850.0 473.2,849.1 474.0,844.2 474.9,839.8 475.7,840.5 476.5,838.1 477.4,839.1 478.2,838.1 479.1,835.9 479.9,836.6 480.8,834.7 481.6,834.4 482.5,834.1 483.3,833.0 484.2,833.0 485.0,834.8 485.9,835.6 486.8,839.4 487.6,841.5 488.4,839.8 489.3,836.6 490.1,833.9 491.0,835.0 491.8,835.6 492.6,835.1 493.5,836.4 494.4,835.9 495.2,836.9 496.0,836.7 496.9,838.1 497.7,839.6 498.6,841.2 499.4,842.3 500.2,842.3 501.1,841.4 501.9,839.8 502.8,840.6 503.6,841.0 504.5,840.2 505.4,840.1 506.2,839.8 507.1,838.1 507.9,839.1 508.8,837.3 509.6,837.2 510.5,835.8 511.3,836.1 512.1,834.0 513.0,833.9 513.8,835.9 514.7,835.6 515.5,836.4 516.3,838.3 517.2,840.8 518.0,842.3 518.9,842.8 519.7,843.1 520.5,842.0 521.4,843.2 522.2,843.0 523.1,844.6 523.9,844.0 524.8,844.9 525.6,844.3 526.5,845.0 527.3,846.6 528.2,846.7 529.0,846.5 529.9,845.7 530.7,844.1 531.6,843.5 532.4,842.3 533.1,842.4 533.8,841.7 534.5,843.7 535.3,842.2 536.0,844.2 536.7,843.2 537.5,841.8 538.4,842.7 539.2,843.3 540.0,842.3 540.9,842.8 541.7,843.0 542.5,843.6 543.4,844.9 544.2,844.6 545.1,845.9 545.9,845.3 546.8,846.6 547.6,849.8 548.5,850.8 549.3,852.7 550.2,853.1 551.0,854.2 551.9,855.8 552.7,855.8 553.6,857.6 554.3,857.2 555.1,855.7 555.8,855.3 556.5,856.1 557.2,855.6 558.0,854.9 558.7,855.0 559.5,854.3 560.4,853.9 561.2,854.8 562.1,852.4 562.9,853.3 563.7,853.7 564.5,851.5 565.2,853.0 566.0,851.6 566.8,852.1 567.5,850.2 568.3,850.0 569.0,849.6 569.8,849.4 570.5,849.4 571.2,848.7 572.0,848.7 572.7,848.1 573.4,847.4 574.1,848.3 574.9,848.3 575.8,846.1 576.6,846.9 577.4,845.0 578.1,844.6 578.9,845.4 579.6,844.8 580.3,845.4 581.1,847.0 581.8,846.1 582.5,847.0 583.2,846.8 584.0,847.6 584.7,847.9 585.4,847.1 586.1,847.2 586.8,847.2 587.6,849.9 588.3,850.3 589.0,852.1 589.8,853.0 590.5,853.7 591.2,852.8 591.9,855.1 592.6,853.4 593.4,854.4 594.1,854.2 594.8,854.8 595.5,855.7 596.3,856.7 597.0,855.3 597.7,856.6 598.5,856.2 599.2,857.0 599.9,857.1 600.6,856.9 601.4,857.3 602.1,857.8 602.8,859.8 603.5,859.2 604.3,858.5 605.1,860.2 606.0,860.4 606.8,859.2 607.6,857.2 608.5,856.3 609.3,854.9 610.1,854.8 610.9,856.0 611.7,858.5 612.5,860.7 613.3,863.5 614.0,864.4 614.8,864.1 615.5,863.3 616.2,863.3 617.0,863.6 617.7,863.5 618.5,862.8 619.3,861.9 620.1,862.1 620.9,862.4 621.6,861.9 622.4,863.1 623.1,863.8 623.8,864.7 624.6,863.6 625.3,864.6 626.0,864.1 626.7,864.6 627.5,864.8 628.2,866.2 628.9,866.0 629.6,866.2 630.4,864.3 631.1,864.5 631.8,865.7 632.6,866.8 633.4,866.0 634.2,866.4 634.9,865.1 635.7,866.2 636.5,867.7 637.3,866.8 638.1,868.6 638.8,869.8 639.6,869.0 640.4,869.6 641.2,870.6 641.9,872.4 642.7,873.3 643.5,874.4 644.3,873.8 645.1,873.7 645.8,873.9 646.6,873.2 647.4,873.4 648.2,873.3 648.9,874.0 649.6,872.7 650.4,874.3 651.1,873.6 651.8,872.8 652.5,873.3 653.3,872.9 654.1,873.9 654.9,874.2 655.6,873.0 656.4,873.1 657.2,874.3 658.0,874.4 658.7,874.3 659.4,874.1 660.1,875.2 660.9,874.0 661.6,874.8 662.3,875.5 663.0,876.6 663.8,875.8 664.5,876.4 665.2,875.4 666.0,874.9 666.7,875.5 667.5,877.4 668.3,877.6 669.1,877.5 669.9,878.8 670.7,877.4 671.5,876.5 672.4,874.5 673.2,873.3 673.9,873.0 674.6,872.9 675.4,870.5 676.1,869.3 676.8,869.3 677.5,869.0 678.2,869.8 679.0,869.0 679.7,870.8 680.4,871.0 681.2,870.8 681.9,871.2 682.6,872.9 683.3,871.8 684.0,873.6 684.8,872.7 685.5,873.2 686.2,874.4 687.0,873.1 687.9,873.9 688.7,872.0 689.5,871.2 690.2,870.7 691.0,871.3 691.7,872.1 692.4,872.9 693.2,871.2 693.9,872.2 694.7,870.7 695.5,871.7 696.3,868.9 697.1,869.0 697.8,865.4 698.6,863.7 699.3,861.4 700.1,860.4 701.0,858.1 701.8,856.8 702.6,853.7 703.4,853.0 704.2,852.4 705.0,854.0 705.8,852.7 706.5,850.5 707.3,850.9 708.0,849.4 708.8,849.9 709.6,850.6 710.5,851.1 711.3,852.7 712.0,852.9 712.8,853.7 713.5,854.8 714.2,856.4 714.9,861.0 715.6,862.4 716.3,862.1 717.1,863.2 717.8,863.2 718.5,862.2 719.3,861.3 720.0,862.4 720.7,861.7 721.4,862.7 722.1,860.6 722.9,860.7 723.6,861.6 724.3,860.3 725.0,858.3 725.8,857.4 726.5,854.8 727.3,854.2 728.1,854.8 729.0,855.4 729.8,857.0" fill="none" stroke="#F0862A" stroke-width="2.6" stroke-linejoin="round"/>
<rect x="109.3" y="906" width="620.1" height="0.9" fill="#d9d9d9"/>
<rect x="108.85" y="906" width="0.9" height="3.5" fill="#d9d9d9"/>
<text x="109.3" y="926.4" font-size="12" fill="#595959" text-anchor="middle">2012/01/04</text>
<rect x="191.55" y="906" width="0.9" height="3.5" fill="#d9d9d9"/>
<text x="192.0" y="926.4" font-size="12" fill="#595959" text-anchor="middle">2013/01/04</text>
<rect x="274.25" y="906" width="0.9" height="3.5" fill="#d9d9d9"/>
<text x="274.7" y="926.4" font-size="12" fill="#595959" text-anchor="middle">2014/01/04</text>
<rect x="356.95" y="906" width="0.9" height="3.5" fill="#d9d9d9"/>
<text x="357.4" y="926.4" font-size="12" fill="#595959" text-anchor="middle">2015/01/04</text>
<rect x="439.65" y="906" width="0.9" height="3.5" fill="#d9d9d9"/>
<text x="440.1" y="926.4" font-size="12" fill="#595959" text-anchor="middle">2016/01/04</text>
<rect x="522.35" y="906" width="0.9" height="3.5" fill="#d9d9d9"/>
<text x="522.8" y="926.4" font-size="12" fill="#595959" text-anchor="middle">2017/01/04</text>
<rect x="605.05" y="906" width="0.9" height="3.5" fill="#d9d9d9"/>
<text x="605.5" y="926.4" font-size="12" fill="#595959" text-anchor="middle">2018/01/04</text>
<rect x="687.75" y="906" width="0.9" height="3.5" fill="#d9d9d9"/>
<text x="688.2" y="926.4" font-size="12" fill="#595959" text-anchor="middle">2019/01/04</text>
<text x="99.5" y="910.7" font-size="12" fill="#595959" text-anchor="end">0.00</text>
<text x="99.5" y="886.6" font-size="12" fill="#595959" text-anchor="end">1.00</text>
<text x="99.5" y="862.5" font-size="12" fill="#595959" text-anchor="end">2.00</text>
<text x="99.5" y="838.4" font-size="12" fill="#595959" text-anchor="end">3.00</text>
<text x="99.5" y="814.3" font-size="12" fill="#595959" text-anchor="end">4.00</text>
<text x="99.5" y="790.2" font-size="12" fill="#595959" text-anchor="end">5.00</text>
<text x="99.5" y="766.1" font-size="12" fill="#595959" text-anchor="end">6.00</text>
<text x="99.5" y="742.0" font-size="12" fill="#595959" text-anchor="end">7.00</text>
</svg>
<div class="a t" style="left:60px;top:86.3px"><span class="n">图 5：</span>2019 年 6 月再融资共完成 235 亿元</div>
<div class="a t" style="left:415.7px;top:86.3px;letter-spacing:0.12px"><span class="n">图 6：</span>2019 年 6 月券商主承销 5030 亿元（亿元\只）</div>
<div class="a t" style="left:59.3px;top:381.2px;letter-spacing:0.11px"><span class="n">图 7：</span>上交所科创板排队企业情况（截至 2019 年 7 月 5 日）</div>
<div class="a t" style="left:67px;top:705.3px;letter-spacing:0.25px"><span class="n">图 8：</span>券商板块目前估值仍处于历史底部区间（中信行业非银金融-证券）</div>
<div class="a src" style="left:59px;top:317px">资料来源：wind，天风证券研究所</div>
<div class="a src" style="left:415px;top:317px">资料来源：wind，天风证券研究所</div>
<div class="a src" style="left:59px;top:641.5px">资料来源：wind，天风证券研究所</div>
<div class="a src" style="left:67px;top:943.5px">资料来源：wind，天风证券研究所</div>
<div class="a" style="left:104px;top:1136px;font-size:12px;letter-spacing:0.4px;color:#595959">请务必阅读正文之后的信息披露和免责<span style="margin-left:3.5px">申明</span></div>
<div class="a" style="left:751px;top:1137.7px;font-size:11px;color:#595959">4</div>
</body></html>
